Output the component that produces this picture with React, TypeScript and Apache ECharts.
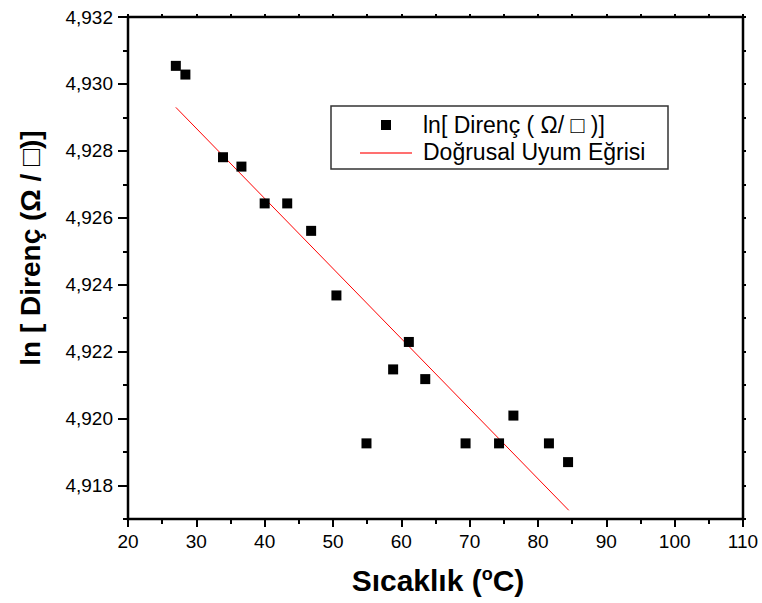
import React, { useEffect, useRef } from "react";
import * as echarts from "echarts";

// ---- data ----
const tempC = [27.0, 28.4, 33.9, 36.6, 40.0, 43.3, 46.8, 50.5, 54.9, 58.8, 61.1, 63.5, 69.4, 74.3, 76.4, 81.6, 84.4];
const lnR = [4.93054, 4.93028, 4.92781, 4.92753, 4.92643, 4.92643, 4.92561, 4.92368, 4.91926, 4.92147, 4.92229, 4.92118, 4.91926, 4.91926, 4.92009, 4.91926, 4.9187];
const fitX = [27.0, 84.5];
const fitY = [4.9293, 4.91726];
const seriesNames = ["ln[ Direnç ( Ω/ □ )]", "Doğrusal Uyum Eğrisi"];
const yMajorTicks = [4.918, 4.92, 4.922, 4.924, 4.926, 4.928, 4.93, 4.932];
const yMinorTicks = [4.917, 4.919, 4.921, 4.923, 4.925, 4.927, 4.929, 4.931];
const xTitle = "Sıcaklık (";
const yTitle = "ln [ Direnç (Ω / □)]";

const FONT = "'Liberation Sans', Arial, Helvetica, sans-serif";

export default function App() {
  const ref = useRef<HTMLDivElement>(null);
  useEffect(() => {
    if (!ref.current) return;
    const chart = echarts.init(ref.current, undefined, { renderer: "svg" });
    const allY = [...yMajorTicks, ...yMinorTicks].sort((a, b) => a - b);
    const noLine = { show: false };
    const tickStyle = { color: "#000000", width: 2, opacity: 1 };
    chart.setOption({
      animation: false,
      backgroundColor: "#fff",
      textStyle: { fontFamily: FONT },
      grid: {
        left: 128,
        right: 19,
        top: 17,
        bottom: 84,
        containLabel: false,
        show: true,
        borderColor: "#000000",
        borderWidth: 2.5,
        backgroundColor: "transparent",
        z: 5,
      },
      xAxis: [
        {
          type: "value",
          position: "bottom",
          min: 20,
          max: 110,
          interval: 10,
          axisLine: noLine,
          axisTick: { show: true, length: 8, lineStyle: tickStyle },
          minorTick: { show: true, splitNumber: 2, length: 5, lineStyle: tickStyle },
          splitLine: { show: false },
          minorSplitLine: { show: false },
          axisLabel: { fontSize: 19, color: "#000", margin: 13, fontFamily: FONT },
        },
        {
          type: "value",
          position: "top",
          min: 20,
          max: 110,
          interval: 5,
          axisLine: noLine,
          axisTick: { show: true, length: 3, lineStyle: tickStyle },
          splitLine: { show: false },
          axisLabel: { show: false },
        },
      ],
      yAxis: [
        {
          type: "value",
          position: "left",
          min: 4.917,
          max: 4.932,
          axisLine: noLine,
          axisTick: { show: true, length: 10, customValues: yMajorTicks, lineStyle: tickStyle },
          splitLine: { show: false },
          axisLabel: {
            customValues: yMajorTicks,
            fontSize: 19,
            color: "#000",
            margin: 15,
            fontFamily: FONT,
            formatter: (v: number) => v.toFixed(3).replace(".", ","),
          },
        },
        {
          type: "value",
          position: "left",
          min: 4.917,
          max: 4.932,
          axisLine: noLine,
          axisTick: { show: true, length: 5, customValues: yMinorTicks, lineStyle: tickStyle },
          splitLine: { show: false },
          axisLabel: { show: false },
        },
        {
          type: "value",
          position: "right",
          min: 4.917,
          max: 4.932,
          axisLine: noLine,
          axisTick: { show: true, length: 3, customValues: allY, lineStyle: tickStyle },
          splitLine: { show: false },
          axisLabel: { show: false },
        },
      ],
      series: [
        {
          name: seriesNames[0],
          type: "scatter",
          symbol: "rect",
          symbolSize: 10,
          itemStyle: { color: "#000", opacity: 1 },
          data: tempC.map((t, i) => [t, lnR[i]]),
          z: 3,
        },
        {
          name: seriesNames[1],
          type: "line",
          showSymbol: false,
          symbol: "none",
          lineStyle: { color: "#ff0000", width: 1 },
          data: fitX.map((x, i) => [x, fitY[i]]),
          z: 2,
        },
      ],
      graphic: [
        {
          type: "text",
          x: 30,
          y: 248,
          rotation: Math.PI / 2,
          style: {
            text: yTitle,
            fontSize: 28,
            fontWeight: "bold",
            fontFamily: FONT,
            fill: "#000",
            align: "center",
            verticalAlign: "middle",
          },
        },
        {
          type: "text",
          x: 438,
          y: 580,
          style: {
            text: xTitle + "{s|o}C)",
            fontSize: 30,
            fontWeight: "bold",
            fontFamily: FONT,
            fill: "#000",
            align: "center",
            verticalAlign: "middle",
            rich: {
              s: { fontSize: 18, fontWeight: "bold", fontFamily: FONT, fill: "#000", verticalAlign: "top", padding: [0, 0, 12, 0] },
            },
          },
        },
        {
          type: "rect",
          shape: { x: 331, y: 106, width: 337, height: 63 },
          style: { fill: "#fff", stroke: "#333", lineWidth: 1.5 },
          z: 10,
        },
        {
          type: "rect",
          shape: { x: 381, y: 120, width: 10, height: 10 },
          style: { fill: "#000" },
          z: 11,
        },
        {
          type: "line",
          shape: { x1: 360, y1: 153, x2: 412, y2: 153 },
          style: { stroke: "#ff4040", lineWidth: 1.5 },
          z: 11,
        },
        {
          type: "text",
          x: 423,
          y: 125,
          style: { text: seriesNames[0], fontSize: 23, fontFamily: FONT, fill: "#000", verticalAlign: "middle" },
          z: 11,
        },
        {
          type: "text",
          x: 423,
          y: 152,
          style: { text: seriesNames[1], fontSize: 23, fontFamily: FONT, fill: "#000", verticalAlign: "middle" },
          z: 11,
        },
      ],
    });
    return () => chart.dispose();
  }, []);
  return <div ref={ref} style={{ position: "absolute", left: 0, top: 0, width: 762, height: 603 }} />;
}
